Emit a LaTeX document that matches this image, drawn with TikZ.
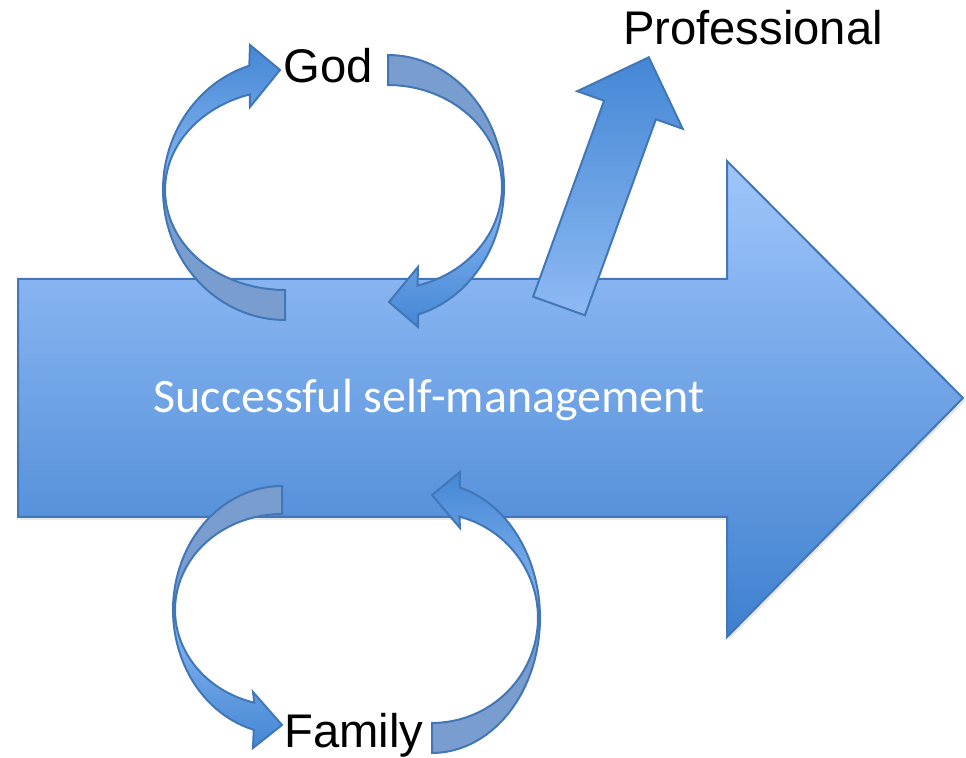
\documentclass[tikz,border=0pt]{standalone}
\usepackage{fontspec}
\setmainfont{Liberation Sans}
\newfontfamily\calibrifont{Carlito}
\usetikzlibrary{shadows}
\definecolor{arrowline}{RGB}{65,119,183}
\definecolor{arrowtop}{RGB}{160,198,252}
\definecolor{arrowbot}{RGB}{62,128,207}
\definecolor{frontlight}{RGB}{142,186,243}
\definecolor{frontdark}{RGB}{68,135,213}
\definecolor{backblue}{RGB}{122,157,207}
\begin{document}
\begin{tikzpicture}[x=0.5pt, y=-0.5pt,
    bigarrow/.style={draw=arrowline, line width=1pt, top color=arrowtop, bottom color=arrowbot,
      drop shadow={opacity=0.18, shadow xshift=1pt, shadow yshift=-1.5pt}},
    backpart/.style={draw=arrowline, line width=1pt, fill=backblue},
    frontpart/.style={draw=arrowline, line width=1pt},
    label/.style={anchor=base, inner sep=0pt, font=\fontsize{23.6}{28}\selectfont}]
  \useasboundingbox (0,0) rectangle (966,758);

  % main arrow
  \draw[bigarrow] (18,279) -- (727,279) -- (727,161) -- (963,398) -- (727,637)
    -- (727,517) -- (18,517) -- cycle;
  \node[anchor=base, text=white, font=\calibrifont\fontsize{24}{28}\selectfont] (ssm) at (429,413)
    {Successful self-management};

  % loop above (God)
  \draw[backpart] plot[domain=90:180] ({285+122*cos(\x)},{190+130*sin(\x)})
    -- plot[domain=180:90] ({285+120*cos(\x)},{190+100*sin(\x)}) -- cycle;
  \draw[frontpart, top color=frontdark, bottom color=frontlight]
    plot[domain=180:253] ({285+122*cos(\x)},{190+130*sin(\x)})
    -- (250,45) -- (280,70) -- (250,107)
    -- plot[domain=253:180] ({285+120*cos(\x)},{190+100*sin(\x)}) -- cycle;
  \draw[backpart] plot[domain=270:360] ({388+116*cos(\x)},{187+132*sin(\x)})
    -- plot[domain=360:270] ({388+114*cos(\x)},{187+102*sin(\x)}) -- cycle;
  \draw[frontpart, top color=frontlight, bottom color=frontdark]
    plot[domain=0:75] ({388+116*cos(\x)},{187+132*sin(\x)})
    -- (418,327) -- (389,302) -- (418,267)
    -- plot[domain=75:0] ({388+114*cos(\x)},{187+102*sin(\x)}) -- cycle;

  % loop below (Family)
  \draw[backpart] plot[domain=180:270] ({282+109*cos(\x)},{610+124*sin(\x)})
    -- plot[domain=270:180] ({282+107*cos(\x)},{610+96*sin(\x)}) -- cycle;
  \draw[frontpart, top color=frontlight, bottom color=frontdark]
    plot[domain=180:105] ({282+109*cos(\x)},{610+124*sin(\x)})
    -- (253,748) -- (282,725) -- (253,692)
    -- plot[domain=105:180] ({282+107*cos(\x)},{610+96*sin(\x)}) -- cycle;
  \draw[backpart] plot[domain=0:90] ({432+108*cos(\x)},{618+135*sin(\x)})
    -- plot[domain=90:0] ({432+106*cos(\x)},{618+105*sin(\x)}) -- cycle;
  \draw[frontpart, top color=frontdark, bottom color=frontlight]
    plot[domain=360:285] ({432+108*cos(\x)},{618+135*sin(\x)})
    -- (460,472) -- (432,495) -- (460,528)
    -- plot[domain=285:360] ({432+106*cos(\x)},{618+105*sin(\x)}) -- cycle;

  % arrow up to Professional
  \draw[frontpart, top color=frontdark, bottom color=frontlight]
    (533.1,296.7) -- (604.1,100.7) -- (577.3,91.2) -- (648.8,57.3)
    -- (682.7,128.8) -- (655.9,119.3) -- (584.9,315.3) -- cycle;

  \node[label] (god) at (328,83) {God};
  \node[label] (prof) at (753,45) {Professional};
  \node[label] (family) at (354,748) {Family};
\end{tikzpicture}
\end{document}
